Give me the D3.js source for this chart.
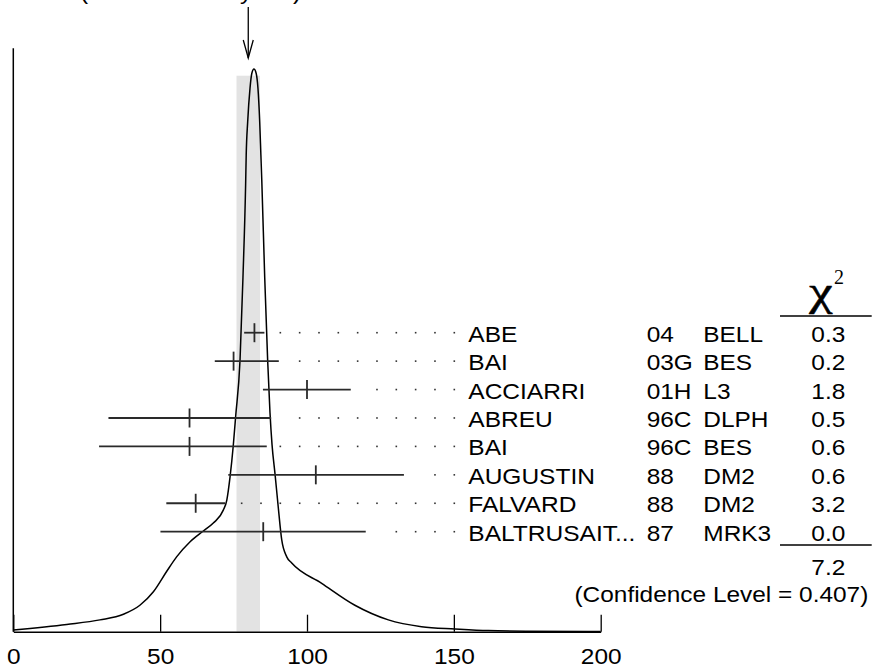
<!DOCTYPE html>
<html>
<head>
<meta charset="utf-8">
<script src="https://cdn.jsdelivr.net/npm/d3@7"></script>
<style>
  html, body { margin: 0; padding: 0; background: #fff; }
  svg { display: block; }
  text { font-family: "Liberation Sans", Arial, Helvetica, sans-serif; fill: #000; }
</style>
</head>
<body>
<svg id="chart" width="872" height="671"></svg>
<script>
// ---------------- data ----------------
const names  = ["ABE", "BAI", "ACCIARRI", "ABREU", "BAI", "AUGUSTIN", "FALVARD", "BALTRUSAIT..."];
const years  = ["04", "03G", "01H", "96C", "96C", "88", "88", "87"];
const exps   = ["BELL", "BES", "L3", "DLPH", "BES", "DM2", "DM2", "MRK3"];
const values  = [82.1, 75.0, 100.0, 60.0, 60.0, 103.0, 62.1, 85.1];
const errLow  = [3.5, 6.4, 15.0, 27.6, 30.8, 29.8, 10.0, 35.0];
const errHigh = [3.4, 15.4, 14.9, 27.8, 26.3, 30.0, 10.0, 34.9];
const chi2   = ["0.3", "0.2", "1.8", "0.5", "0.6", "0.6", "3.2", "0.0"];
const chi2Total = "7.2";
const confidenceLevel = "0.407";
const average = 80;
const averageErr = 4;
const errorScale = "1.0";
const xTicks = [0, 50, 100, 150, 200];
// ideogram curve (relative height, peak = 100)
const curveX = [0, 18.2, 29.5, 37.5, 43.1, 47.7, 52.2, 55.6, 60.2, 64.7, 68.1, 71.5, 72.7, 73.8, 74.9, 75.7, 77.2, 78.2, 79.1, 79.3, 79.8, 80.6, 81.2, 81.95, 82.7, 83.3, 83.9, 84.3, 84.6, 85.6, 86.6, 87.4, 88.1, 89.1, 90.2, 91.4, 93.1, 94.8, 105, 116.3, 127.7, 139, 150.4, 161.7, 175, 200];
const curveY = [0.3, 1.3, 2.1, 3.1, 4.7, 7.1, 10.7, 13.3, 16.0, 17.9, 19.3, 21.6, 23.4, 27.5, 33.1, 38.2, 48.3, 63, 79.4, 84.7, 90.6, 96.6, 99.2, 100, 99.2, 96.6, 90.6, 84.7, 80.3, 63, 48.3, 38.9, 33.2, 28.1, 22.2, 16.3, 13.3, 12.2, 8.6, 4.7, 2.1, 0.9, 0.5, 0.2, 0.1, 0.05];

// ---------------- layout ----------------
const SX = 1.11;           // horizontal stretch of the text in the reference
const FS = 22;
const svg = d3.select("#chart");
const x = d3.scaleLinear().domain([0, 200]).range([13.3, 600.7]);
const y = d3.scaleLinear().domain([0, 100]).range([631.7, 69]);
const row = d3.scaleLinear().domain([0, names.length - 1]).range([332.7, 531.7]);

function txt(px, py, s, anchor, size, family, sx) {
  const t = svg.append("text")
    .attr("transform", `translate(${px},${py}) scale(${sx == null ? SX : sx},1)`)
    .attr("text-anchor", anchor || "start")
    .style("font-size", (size || FS) + "px")
    .text(s);
  if (family) t.style("font-family", family);
  return t;
}

// gray band for the weighted average
svg.append("rect")
  .attr("x", x(average - averageErr))
  .attr("width", x(average + averageErr) - x(average - averageErr))
  .attr("y", 75.7)
  .attr("height", 631.7 - 75.7)
  .attr("fill", "#e3e3e3");

// x axis
const axis = d3.axisBottom(x).tickValues(xTicks).tickSize(-17).tickSizeOuter(0).tickFormat(d3.format("d"));
const ag = svg.append("g").attr("transform", "translate(0,631.7)").call(axis);
ag.attr("font-family", null).attr("font-size", null);
ag.select(".domain").attr("stroke", "#000").attr("stroke-width", 1.5);
ag.selectAll(".tick line").attr("stroke", "#000").attr("stroke-width", 1.3);
ag.selectAll(".tick text")
  .attr("y", 32.6).attr("dy", 0)
  .attr("transform", `scale(${SX},1)`)
  .attr("fill", "#000")
  .style("font-size", FS + "px")
  .style("font-family", '"Liberation Sans", Arial, sans-serif');

// left vertical line
svg.append("line")
  .attr("x1", x(0)).attr("x2", x(0))
  .attr("y1", 48.3).attr("y2", 631.7)
  .attr("stroke", "#000").attr("stroke-width", 1.5);

// ideogram curve
const pts = curveX.map((v, i) => [v, curveY[i]]);
svg.append("path")
  .datum(pts)
  .attr("d", d3.line().x(d => x(d[0])).y(d => y(d[1])).curve(d3.curveMonotoneX))
  .attr("fill", "none").attr("stroke", "#000").attr("stroke-width", 1.5);

// arrow at the average
const ax = x(average);
svg.append("line").attr("x1", ax).attr("x2", ax).attr("y1", 7).attr("y2", 58)
  .attr("stroke", "#000").attr("stroke-width", 1.3);
svg.append("path")
  .attr("d", `M${ax - 5},40 L${ax},58 L${ax + 5},40`)
  .attr("fill", "none").attr("stroke", "#000").attr("stroke-width", 1.3);

// title (mostly outside the picture, as in the reference)
txt(18, -27, "WEIGHTED AVERAGE");
txt(72, -1.5, `${average}±${averageErr}`, "end");
txt(80, -1.5, `(Error scaled by ${errorScale})`);

// measurements
const nameX = 468.3, yearX = 646.7, expX = 703.3, chiX = 828.3;
const dotLast = 454.3, dotStep = 19.33;
names.forEach((n, i) => {
  const cy = row(i);
  const x0 = x(values[i] - errLow[i]);
  const x1 = x(values[i] + errHigh[i]);
  svg.append("line").attr("x1", x0).attr("x2", x1).attr("y1", cy).attr("y2", cy)
    .attr("stroke", "#2a2a2a").attr("stroke-width", 1.8);
  svg.append("line").attr("x1", x(values[i])).attr("x2", x(values[i]))
    .attr("y1", cy - 9.5).attr("y2", cy + 9.5)
    .attr("stroke", "#2a2a2a").attr("stroke-width", 1.8);
  // dotted leader
  for (let k = 0; ; k++) {
    const dx = dotLast - k * dotStep;
    if (dx < x1 + 13) break;
    svg.append("rect").attr("x", dx - 0.8).attr("y", cy - 0.8)
      .attr("width", 1.6).attr("height", 1.6).attr("fill", "#333");
  }
  const by = cy + 9;
  txt(nameX, by, n, "start", FS, null, 1.115);
  txt(yearX, by, years[i]);
  txt(expX, by, exps[i]);
  txt(chiX, by, chi2[i], "middle");
});

// chi-square header and totals
txt(821, 305, "χ", "middle", 42, '"Liberation Serif", "DejaVu Serif", serif', 1.25)
  .attr("stroke", "#000").attr("stroke-width", 0.6);
txt(834, 284, "2", "start", 20, '"Liberation Serif", "DejaVu Serif", serif', 1);
svg.append("line").attr("x1", 780).attr("x2", 871.7).attr("y1", 316).attr("y2", 316)
  .attr("stroke", "#000").attr("stroke-width", 1.3);
svg.append("line").attr("x1", 780).attr("x2", 871.7).attr("y1", 545).attr("y2", 545)
  .attr("stroke", "#000").attr("stroke-width", 1.3);
txt(chiX, 575, chi2Total, "middle");
txt(868.3, 601.7, `(Confidence Level = ${confidenceLevel})`, "end");
</script>
</body>
</html>
